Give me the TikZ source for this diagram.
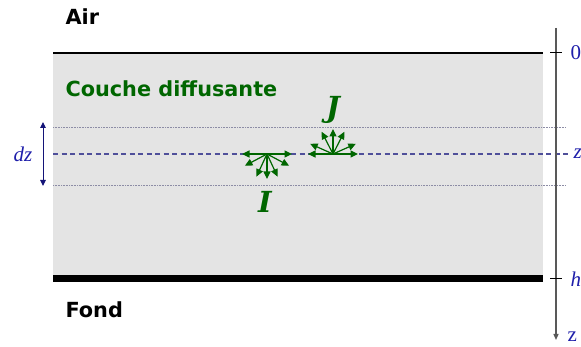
\documentclass[tikz,border=0pt]{standalone}
\usepackage{fontspec}
\setmainfont{Liberation Serif}
\newfontfamily\verdfont{DejaVu Sans}
\newfontfamily\lettrefont{DejaVu Serif}
\usetikzlibrary{calc, arrows.meta}
\definecolor{vertfonce}{RGB}{0,102,0}
\definecolor{bleuz}{RGB}{30,30,170}
\definecolor{marine}{RGB}{20,20,120}
\definecolor{grisfond}{RGB}{228,228,228}
\definecolor{grispoint}{RGB}{140,140,165}
\tikzset{
  titre/.style={anchor=west, font=\verdfont\bfseries\fontsize{20.8}{24}\selectfont},
  cote/.style={anchor=west, text=bleuz, font=\fontsize{21}{25}\selectfont},
  flux/.style={vertfonce, line width=1.2pt, -{Triangle[length=7.5pt,width=7pt]}},
  lettre/.style={text=vertfonce, font=\lettrefont\bfseries\itshape\fontsize{29}{32}\selectfont},
}
\begin{document}
\begin{tikzpicture}[x=1pt, y=1pt]

  % --- Paramètres ---
  \pgfmathsetmacro{\xg}{53}     % bord gauche de la couche
  \pgfmathsetmacro{\xd}{543}    % bord droit de la couche
  \pgfmathsetmacro{\ztop}{294}  % surface (z = 0)
  \pgfmathsetmacro{\zbas}{70}   % fond (z = h)
  \pgfmathsetmacro{\zz}{193}    % niveau z
  \pgfmathsetmacro{\lf}{25}     % longueur des flèches de flux

  \useasboundingbox (0,0) rectangle (581,347);

  % --- Couche diffusante ---
  \fill[grisfond] (\xg,\zbas) rectangle (\xd,\ztop);
  \draw[line width=1.2pt] (\xg,\ztop) -- (\xd,\ztop);
  \draw[line width=6.5pt] (\xg,\zbas-1.5) -- (\xd,\zbas-1.5);

  \node[titre] (air)    at (62,330) {Air};
  \node[titre, text=vertfonce] (couche) at (62,258) {Couche diffusante};
  \node[titre] (fond)   at (62,37)  {Fond};

  % --- Tranche dz ---
  \draw[grispoint, line width=0.6pt, densely dotted] (\xg,220) -- (566,220);
  \draw[grispoint, line width=0.6pt, densely dotted] (\xg,162) -- (566,162);
  \draw[marine!75!white, line width=1.3pt, dash pattern=on 5pt off 3.5pt] (\xg,\zz) -- (570,\zz);
  \draw[marine, line width=1pt, {Triangle[length=6pt,width=5.5pt]}-{Triangle[length=6pt,width=5.5pt]}]
    (43,225) -- (43,161);
  \node[cote, anchor=center, font=\itshape\fontsize{21}{25}\selectfont] (dz) at (23,193) {dz};

  % --- Axe des profondeurs ---
  \coordinate (haut) at (556,319);
  \coordinate (bas)  at (556,7);
  \draw[black!65, line width=1.3pt, -{Triangle[length=6pt,width=5pt]}] (haut) -- (bas);
  \draw[line width=1pt] (550,\ztop) -- (562,\ztop);
  \draw[line width=1pt] (550,\zbas-1.5) -- (562,\zbas-1.5);
  \node[cote] (zero) at (567,\ztop) {0};
  \node[cote, font=\itshape\fontsize{21}{25}\selectfont] (hh) at (567,\zbas-2) {h};
  \node[cote, font=\itshape\fontsize{21}{25}\selectfont] (zniv) at (570,\zz) {z};
  \node[cote] (zax) at (564,10) {z};

  % --- Flux descendant I ---
  \coordinate (oI) at (267,\zz);
  \foreach \a in {180,208,245,270,295,332,0}
    \draw[flux] (oI) -- ++(\a:\lf);
  \node[lettre] (I) at (265,145) {I};

  % --- Flux montant J ---
  \coordinate (oJ) at (333,\zz);
  \foreach \a in {180,156,117,90,63,24,0}
    \draw[flux] (oJ) -- ++(\a:\lf);
  \node[lettre] (J) at (333,237) {J};

\end{tikzpicture}
\end{document}
